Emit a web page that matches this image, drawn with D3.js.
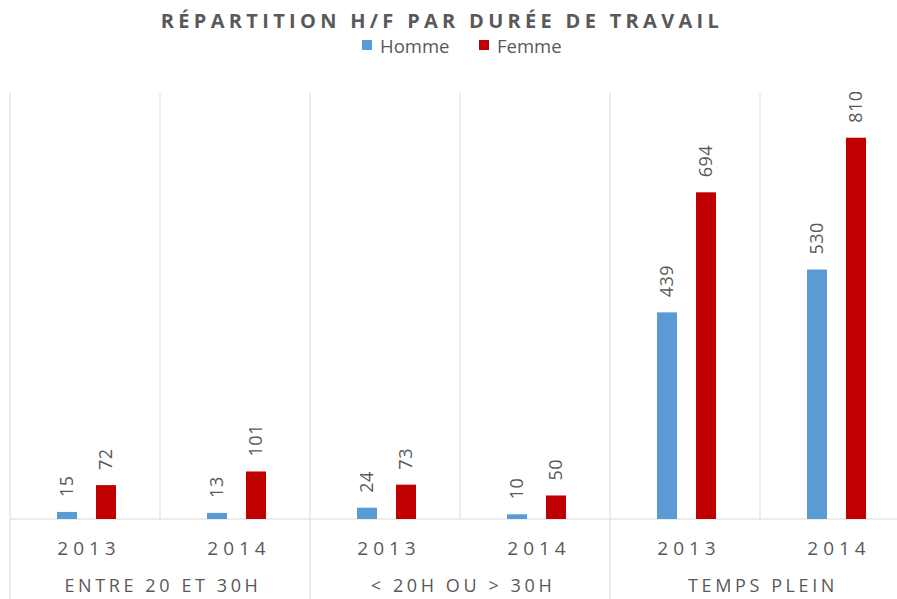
<!DOCTYPE html>
<html>
<head>
<meta charset="utf-8">
<script src="https://cdn.jsdelivr.net/npm/d3@7"></script>
<style>
  body { margin: 0; background: #fff; overflow: hidden; }
  text { font-family: "Open Sans", "Noto Sans", sans-serif; fill: #595959; }
</style>
</head>
<body>
<div id="chart"></div>
<script>
// data
const groups = ["ENTRE 20 ET 30H", "< 20H OU > 30H", "TEMPS PLEIN"]
const years = ["2013", "2014"]
const series = ["Homme", "Femme"]
const homme = [15, 13, 24, 10, 439, 530]
const femme = [72, 101, 73, 50, 694, 810]

const colors = ["#5B9BD5", "#C00000"]

const W = 897, H = 599
const margin = {top: 93, left: 10, bottom: 80}
const plotW = 900
const baseY = H - margin.bottom

const svg = d3.select("#chart").append("svg")
  .attr("width", W).attr("height", H)

// one band per (group, year)
const cats = []
groups.forEach((g, gi) => years.forEach((y, yi) => cats.push({g, y, gi, yi, i: gi * years.length + yi})))

const x = d3.scaleBand()
  .domain(cats.map(d => d.i))
  .range([margin.left, margin.left + plotW])

const xs = d3.scaleBand()
  .domain(series)
  .range([x.bandwidth() / 2 - 28, x.bandwidth() / 2 + 31])
  .paddingInner(0.487)

const y = d3.scaleLinear()
  .domain([0, 905])
  .range([baseY, margin.top])

// vertical separators
cats.forEach(d => {
  const xl = x(d.i)
  svg.append("line")
    .attr("x1", xl).attr("x2", xl)
    .attr("y1", margin.top).attr("y2", d.yi === 0 ? H : baseY)
    .attr("stroke", "#d9d9d9").attr("stroke-width", 1)
})
svg.append("line")
  .attr("x1", margin.left + plotW).attr("x2", margin.left + plotW)
  .attr("y1", margin.top).attr("y2", H)
  .attr("stroke", "#d9d9d9")

// baseline
svg.append("line")
  .attr("x1", margin.left).attr("x2", margin.left + plotW)
  .attr("y1", baseY).attr("y2", baseY)
  .attr("stroke", "#d9d9d9")

// bars
const values = [homme, femme]
series.forEach((s, si) => {
  const g = svg.append("g")
  g.selectAll("rect")
    .data(cats)
    .enter()
    .append("rect")
      .attr("x", d => x(d.i) + xs(s))
      .attr("y", d => y(values[si][d.i]))
      .attr("width", xs.bandwidth())
      .attr("height", d => baseY - y(values[si][d.i]))
      .attr("fill", colors[si])

  // rotated value labels
  g.selectAll("text")
    .data(cats)
    .enter()
    .append("text")
      .attr("transform", d => "translate(" + (x(d.i) + xs(s) + xs.bandwidth() / 2) + "," + (y(values[si][d.i]) - 15) + ") rotate(-90)")
      .attr("text-anchor", "start")
      .attr("dy", "0.35em")
      .style("font-size", "18px")
      .style("letter-spacing", "0.5px")
      .text(d => values[si][d.i])
})

// year labels
svg.selectAll(".year")
  .data(cats)
  .enter()
  .append("text")
    .attr("class", "year")
    .attr("x", d => x(d.i) + x.bandwidth() / 2 + 4)
    .attr("y", baseY + 36)
    .attr("text-anchor", "middle")
    .style("font-size", "19px")
    .style("letter-spacing", "5px")
    .text(d => d.y)

// group labels
svg.selectAll(".grp")
  .data(groups)
  .enter()
  .append("text")
    .attr("class", "grp")
    .attr("x", (d, i) => x(i * 2) + x.bandwidth() + 3)
    .attr("y", baseY + 73)
    .attr("text-anchor", "middle")
    .style("font-size", "18px")
    .style("letter-spacing", "3.6px")
    .text(d => d)

// title
svg.append("text")
  .attr("x", 442)
  .attr("y", 28)
  .attr("text-anchor", "middle")
  .style("font-size", "20px")
  .style("font-weight", "bold")
  .style("letter-spacing", "4.3px")
  .text("RÉPARTITION H/F PAR DURÉE DE TRAVAIL")

// legend
const legendX = [362, 479]
series.forEach((s, i) => {
  svg.append("rect")
    .attr("x", legendX[i]).attr("y", 40)
    .attr("width", 10).attr("height", 10)
    .attr("fill", colors[i])
  svg.append("text")
    .attr("x", legendX[i] + 18).attr("y", 53)
    .style("font-size", "18.5px")
    .text(s)
})
</script>
</body>
</html>
